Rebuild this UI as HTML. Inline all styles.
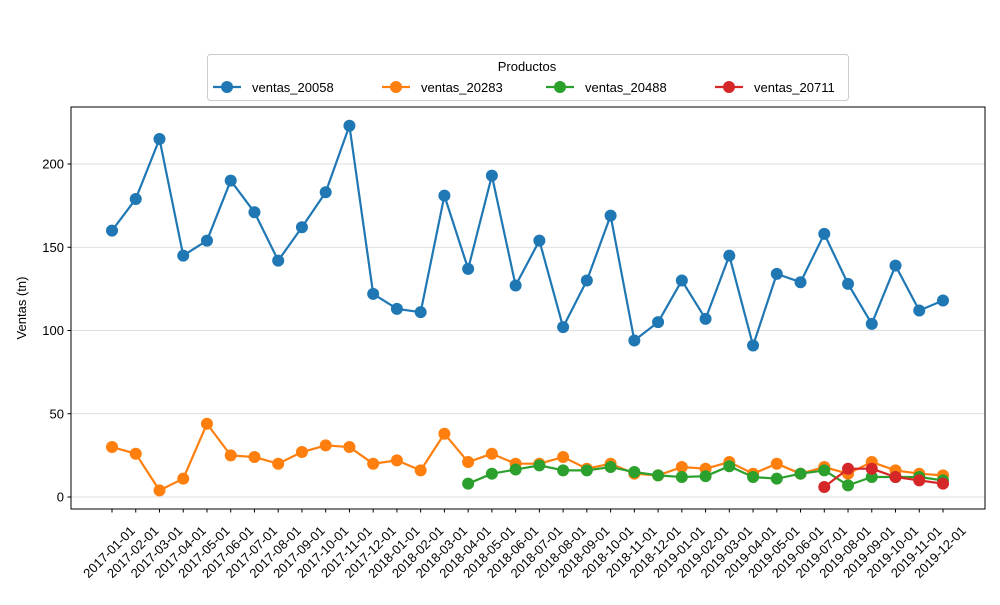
<!DOCTYPE html>
<html><head><meta charset="utf-8"><style>
body{margin:0;background:#fff;}
svg text{font-family:"Liberation Sans","DejaVu Sans",sans-serif;fill:#000;}
</style></head><body>
<svg id="chart" width="1000" height="600" xmlns="http://www.w3.org/2000/svg">
<g id="grid"></g>
<g id="series"></g>
<rect x="71" y="107" width="914" height="402" fill="none" stroke="#000" stroke-width="1"/>
<g id="axes"></g>
<text x="26" y="308" font-size="13" text-anchor="middle" transform="rotate(-90 26 308)">Ventas (tn)</text>
<g id="legend">
<rect x="207.5" y="54.5" width="641" height="46" rx="3" fill="#fff" stroke="#ccc"/>
<text x="527" y="71" font-size="13" text-anchor="middle">Productos</text>
</g>
</svg>
<script>
const categories = ["2017-01-01","2017-02-01","2017-03-01","2017-04-01","2017-05-01","2017-06-01","2017-07-01","2017-08-01","2017-09-01","2017-10-01","2017-11-01","2017-12-01","2018-01-01","2018-02-01","2018-03-01","2018-04-01","2018-05-01","2018-06-01","2018-07-01","2018-08-01","2018-09-01","2018-10-01","2018-11-01","2018-12-01","2019-01-01","2019-02-01","2019-03-01","2019-04-01","2019-05-01","2019-06-01","2019-07-01","2019-08-01","2019-09-01","2019-10-01","2019-11-01","2019-12-01"];
const ventas20058 = [160,179,215,145,154,190,171,142,162,183,223,122,113,111,181,137,193,127,154,102,130,169,94,105,130,107,145,91,134,129,158,128,104,139,112,118];
const ventas20283 = [30,26,4,11,44,25,24,20,27,31,30,20,22,16,38,21,26,20,20,24,17,20,14,13,18,17,21,14,20,14,18,14,21,16,14,13];
const ventas20488 = [null,null,null,null,null,null,null,null,null,null,null,null,null,null,null,8,14,16.5,19,16,16,18,15,13,12,12.5,18.5,12,11,14,16,7,12,12,12,10];
const ventas20711 = [null,null,null,null,null,null,null,null,null,null,null,null,null,null,null,null,null,null,null,null,null,null,null,null,null,null,null,null,null,null,6,17,17,12,10,8];
const yTicks = [0,50,100,150,200];
const seriesNames = ["ventas_20058","ventas_20283","ventas_20488","ventas_20711"];
const seriesData = [ventas20058, ventas20283, ventas20488, ventas20711];
const colors = ["#1f77b4","#ff7f0e","#2ca02c","#d62728"];

const NS="http://www.w3.org/2000/svg";
const xScale = i => 112 + i*(943-112)/(categories.length-1);
const yScale = v => 497 - v*(497-164)/200;
function mk(tag, attrs, parent){const e=document.createElementNS(NS,tag);for(const k in attrs)e.setAttribute(k,attrs[k]);parent.appendChild(e);return e;}
const grid=document.getElementById('grid'), axes=document.getElementById('axes'), ser=document.getElementById('series'), leg=document.getElementById('legend');
yTicks.forEach(t=>{
  const y=yScale(t);
  const g=mk('line',{x1:71,x2:985,y1:y,y2:y,stroke:'#d3d3d3','stroke-width':0.8},grid);
  
  
  mk('line',{x1:67.5,x2:71,y1:y,y2:y,stroke:'#000'},axes);
  const tx=mk('text',{x:64,y:y+4.5,'font-size':13,'text-anchor':'end'},axes);
  tx.textContent=t;
  
  
});
categories.forEach((c,i)=>{
  const x=xScale(i);
  mk('line',{x1:x,x2:x,y1:509,y2:512.5,stroke:'#000'},axes);
  const cx=x-3;
  const tx=mk('text',{x:cx,y:556.5,'font-size':13,'text-anchor':'middle',transform:`rotate(-45 ${cx} 552)`},axes);
  tx.textContent=c;
  
  
});
seriesData.forEach((d,s)=>{
  const g=mk('g',{},ser);
  
  
  const pts=[];
  d.forEach((v,i)=>{if(v!==null)pts.push([xScale(i),yScale(v)]);});
  mk('polyline',{points:pts.map(p=>p.join(',')).join(' '),fill:'none',stroke:colors[s],'stroke-width':2.2,'stroke-linejoin':'round'},g);
  pts.forEach(p=>{
    const c=mk('circle',{cx:p[0],cy:p[1],r:6,fill:colors[s]},g);
    
    
  });
});
const legX=[213,382,546,715];
seriesNames.forEach((n,s)=>{
  const x=legX[s];
  const g=mk('g',{},leg);
  
  
  mk('line',{x1:x,x2:x+28,y1:87,y2:87,stroke:colors[s],'stroke-width':2.2},g);
  mk('circle',{cx:x+14,cy:87,r:6,fill:colors[s]},g);
  const t=mk('text',{x:x+39,y:92,'font-size':13},g);
  t.textContent=n;
});
</script>
</body></html>
